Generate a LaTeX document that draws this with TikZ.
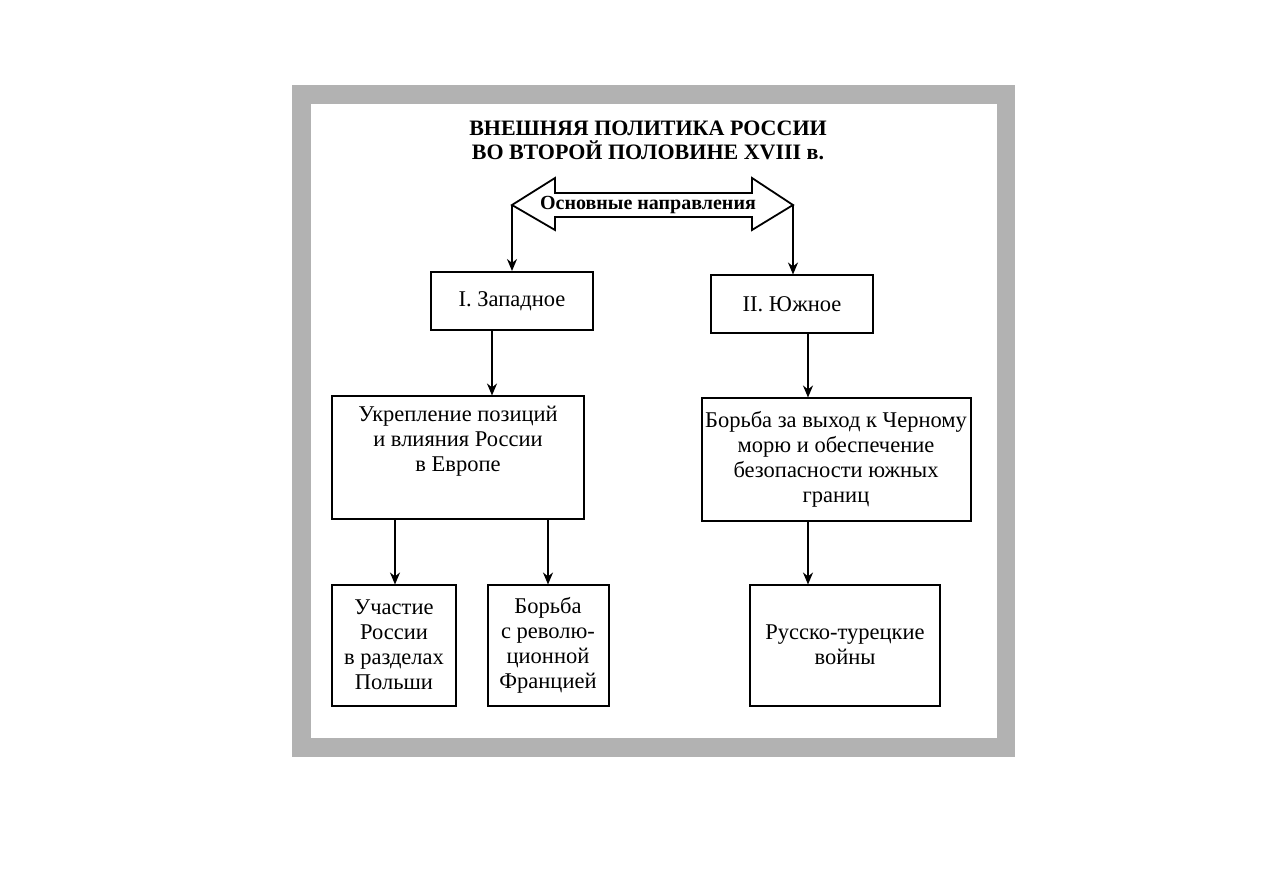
\documentclass[tikz,border=0pt]{standalone}
\usepackage{fontspec}
\setmainfont{Liberation Serif}
\usetikzlibrary{arrows.meta}
\begin{document}
\begin{tikzpicture}[x=1pt,y=-1pt,
  box/.style={draw,line width=2pt,align=center,inner sep=1pt,font=\fontsize{22.5}{25}\selectfont},
  arr/.style={line width=1.6pt,-{Stealth[length=12pt,width=10pt]}}]
\useasboundingbox (0,0) rectangle (1263,893);
\fill[white] (0,0) rectangle (1263,893);
\fill[black!30] (292,85) rectangle (1015,757);
\fill[white] (311,104) rectangle (997,738);
\node[font=\bfseries\fontsize{22}{24}\selectfont,align=center] (t) at (648,140) {ВНЕШНЯЯ ПОЛИТИКА РОССИИ\\ВО ВТОРОЙ ПОЛОВИНЕ XVIII в.};
\draw[line width=1.8pt,fill=white] (512,205) -- (555,178) -- (555,193) -- (752,193) -- (752,178) -- (793,205) -- (752,230) -- (752,217) -- (555,217) -- (555,230) -- cycle;
\node[font=\bfseries\fontsize{20}{22}\selectfont] (d) at (648,205) {Основные направления};
\coordinate (dl) at (512,205);
\coordinate (dr) at (793,205);
\node[box,minimum width=162pt,minimum height=58pt] (w) at (512,301) {I. Западное};
\node[box,minimum width=162pt,minimum height=57pt] (s) at (792,304) {II. Южное};
\node[box,minimum width=252pt,minimum height=123pt] (w1) at (458,457) {Укрепление позиций\\и влияния России\\в Европе\\[12pt]};
\node[box,minimum width=269pt,minimum height=123pt] (s1) at (836,459) {Борьба за выход к Черному\\морю и обеспечение\\безопасности южных\\границ};
\node[box,minimum width=124pt,minimum height=121pt] (w2) at (394,645) {Участие\\России\\в разделах\\Польши};
\node[box,minimum width=121pt,minimum height=121pt] (w3) at (548,645) {Борьба\\с револю-\\ционной\\Францией};
\node[box,minimum width=190pt,minimum height=121pt] (s2) at (845,645) {Русско-турецкие\\войны};
\draw[arr] (dl) -- (w.north);
\draw[arr] (dr) -- (dr|-s.north);
\draw[arr] (492,330) -- (492,395.5);
\draw[arr] (808,333) -- (808,397.5);
\draw[arr] (395,519) -- (395,584.5);
\draw[arr] (548,519) -- (548,584.5);
\draw[arr] (808,521) -- (808,584.5);
\end{tikzpicture}
\end{document}
